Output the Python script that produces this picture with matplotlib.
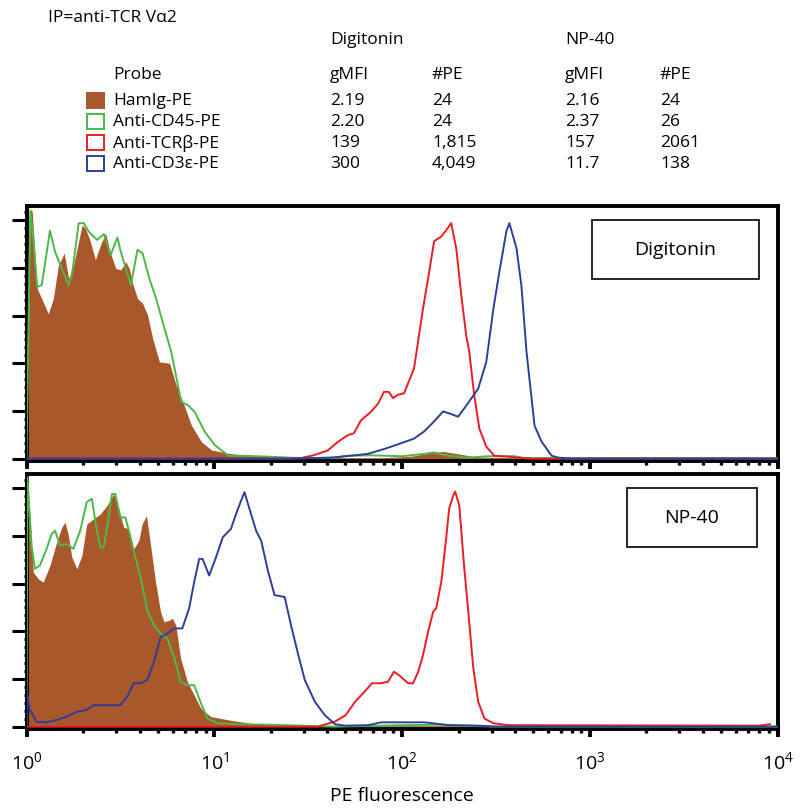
import matplotlib
matplotlib.use("Agg")
import matplotlib.pyplot as plt
from matplotlib.patches import Rectangle
from matplotlib.ticker import MultipleLocator, LogLocator, NullFormatter
import numpy as np

plt.rcParams['font.family'] = ['Open Sans', 'DejaVu Sans']
plt.rcParams['mathtext.fontset'] = 'custom'
plt.rcParams['mathtext.rm'] = 'Open Sans'

# summary table
probes = ["HamIg-PE", "Anti-CD45-PE", "Anti-TCRβ-PE", "Anti-CD3ε-PE"]
colors = ["#A8582A", "#4DB848", "#ED1C24", "#2E3F9A"]
dig_gmfi = ["2.19", "2.20", "139", "300"]
dig_pe = ["24", "24", "1,815", "4,049"]
np_gmfi = ["2.16", "2.37", "157", "11.7"]
np_pe = ["24", "26", "2061", "138"]

# histograms: log10(PE fluorescence) and relative counts
# --- Digitonin ---
dig_ham_x = [0.0, 0.02, 0.03, 0.057, 0.116, 0.143, 0.17, 0.201, 0.224, 0.251, 0.296, 0.314,
             0.337, 0.367, 0.394, 0.421, 0.448, 0.475, 0.502, 0.529, 0.547, 0.565, 0.591,
             0.618, 0.645, 0.672, 0.708, 0.762, 0.797, 0.833, 0.878, 0.932, 0.986, 1.075,
             1.147, 1.254, 1.326, 1.5, 1.9, 2.05, 2.15, 2.22, 2.3, 2.4, 2.6, 3.2, 3.4, 3.8, 4.0]
dig_ham_y = [0.0, 5.22, 5.2, 3.57, 3.04, 3.36, 4.06, 4.31, 3.78, 4.06, 4.9, 4.83,
             4.59, 4.17, 4.48, 4.73, 4.31, 3.99, 3.96, 4.13, 3.99, 3.68, 3.36,
             3.26, 3.01, 2.52, 2.03, 2.0, 1.54, 1.19, 0.7, 0.35, 0.18, 0.11,
             0.08, 0.06, 0.02, 0.02, 0.02, 0.05, 0.12, 0.15, 0.1, 0.03, 0.02, 0.03, 0.03, 0.03, 0.02]
dig_cd45_x = [0.0, 0.02, 0.036, 0.057, 0.081, 0.125, 0.152, 0.188, 0.224, 0.242, 0.278, 0.305,
              0.332, 0.376, 0.412, 0.448, 0.484, 0.502, 0.556, 0.591, 0.618, 0.654, 0.69,
              0.735, 0.771, 0.824, 0.86, 0.896, 0.95, 1.004, 1.075, 1.147, 1.29, 1.47, 1.65,
              1.7, 1.83, 2.0, 2.12, 2.17, 2.25, 2.35, 2.46, 2.6, 2.65, 4.0]
dig_cd45_y = [0.0, 5.2, 4.62, 3.6, 3.64, 4.78, 4.34, 3.99, 3.64, 3.85, 4.94, 4.94,
              4.76, 4.59, 4.71, 4.27, 4.64, 4.34, 3.64, 4.38, 4.31, 3.78, 3.36,
              2.73, 2.24, 1.19, 1.12, 0.98, 0.56, 0.28, 0.06, 0.06, 0.04, 0.01, 0.02,
              0.06, 0.07, 0.05, 0.1, 0.13, 0.06, 0.02, 0.05, 0.05, 0.01, 0.01]
dig_tcr_x = [0.0, 1.406, 1.46, 1.529, 1.604, 1.658, 1.711, 1.743, 1.781, 1.834, 1.872, 1.904,
             1.93, 1.952, 1.979, 2.011, 2.064, 2.112, 2.139, 2.171, 2.209, 2.235, 2.262,
             2.289, 2.316, 2.342, 2.358, 2.385, 2.412, 2.449, 2.492, 2.567, 2.62, 2.69, 4.0]
dig_tcr_y = [0.0, 0.0, 0.01, 0.07, 0.17, 0.35, 0.49, 0.53, 0.8, 0.98, 1.15, 1.4,
             1.4, 1.27, 1.34, 1.37, 1.89, 3.15, 3.78, 4.56, 4.66, 4.79, 4.94,
             4.41, 3.42, 2.58, 2.25, 1.32, 0.63, 0.25, 0.06, 0.04, 0.02, 0.0, 0.0]
dig_cd3_x = [0.0, 1.406, 1.62, 1.727, 1.818, 1.904, 1.979, 2.064, 2.118, 2.171, 2.219, 2.251,
             2.299, 2.342, 2.406, 2.449, 2.487, 2.519, 2.556, 2.572, 2.61, 2.636, 2.663,
             2.706, 2.743, 2.797, 2.834, 2.904, 4.0]
dig_cd3_y = [0.0, 0.0, 0.02, 0.06, 0.1, 0.2, 0.3, 0.42, 0.57, 0.78, 0.99, 0.95,
             0.88, 1.11, 1.47, 2.03, 3.15, 3.93, 4.77, 4.94, 4.41, 3.63, 2.25,
             0.69, 0.36, 0.06, 0.02, 0.0, 0.0]

# --- NP-40 ---
np_ham_x = [0.0, 0.009, 0.036, 0.0625, 0.089, 0.125, 0.161, 0.1875, 0.205, 0.223, 0.241,
            0.268, 0.295, 0.321, 0.357, 0.393, 0.429, 0.464, 0.491, 0.518, 0.545, 0.571,
            0.598, 0.616, 0.639, 0.661, 0.6875, 0.714, 0.732, 0.759, 0.777, 0.795, 0.821,
            0.857, 0.893, 0.929, 0.982, 1.036, 1.107, 1.196, 1.286, 1.464, 2.3, 2.5, 4.0]
np_ham_y = [0.0, 5.0, 3.24, 3.1, 3.03, 3.38, 3.87, 4.18, 4.29, 4.01, 3.56,
            3.31, 3.59, 4.25, 4.36, 4.46, 4.64, 4.88, 4.57, 4.18, 4.15, 3.73,
            3.9, 4.25, 4.43, 3.8, 3.03, 2.41, 2.2, 2.23, 2.27, 2.13, 1.43,
            0.94, 0.66, 0.38, 0.21, 0.17, 0.12, 0.07, 0.03, 0.02, 0.02, 0.0, 0.0]
np_cd45_x = [0.0, 0.005, 0.027, 0.045, 0.071, 0.107, 0.134, 0.152, 0.179, 0.214, 0.25,
             0.286, 0.321, 0.348, 0.375, 0.393, 0.411, 0.429, 0.455, 0.473, 0.5, 0.527,
             0.545, 0.571, 0.607, 0.643, 0.679, 0.714, 0.75, 0.786, 0.821, 0.857, 0.893,
             0.929, 0.964, 1.018, 1.107, 1.286, 1.464, 1.64, 2.0, 2.2, 2.35, 2.5, 4.0]
np_cd45_y = [0.0, 5.23, 3.8, 3.31, 3.38, 3.73, 4.04, 4.11, 3.8, 3.83, 3.73,
             4.11, 4.71, 4.78, 4.11, 3.76, 3.76, 4.18, 4.88, 4.88, 4.39, 4.39,
             4.11, 3.69, 3.14, 2.44, 2.13, 1.95, 1.85, 1.46, 0.94, 0.87, 0.87,
             0.49, 0.17, 0.07, 0.05, 0.04, 0.02, 0.0, 0.03, 0.04, 0.02, 0.0, 0.0]
np_tcr_x = [0.0, 1.55, 1.64, 1.7, 1.75, 1.8, 1.84, 1.888, 1.925, 1.957, 1.984, 2.032,
            2.059, 2.086, 2.112, 2.139, 2.166, 2.182, 2.209, 2.235, 2.251, 2.273, 2.283,
            2.305, 2.332, 2.353, 2.38, 2.406, 2.439, 2.487, 2.567, 3.9, 3.96]
np_tcr_y = [0.0, 0.0, 0.1, 0.24, 0.52, 0.73, 0.91, 0.91, 0.94, 1.15, 1.08, 0.91,
            0.91, 1.15, 1.5, 1.99, 2.41, 2.48, 3.03, 3.94, 4.57, 4.85, 4.93,
            4.64, 3.31, 2.41, 1.22, 0.52, 0.17, 0.07, 0.03, 0.02, 0.05]
np_cd3_x = [0.0, 0.004, 0.018, 0.054, 0.107, 0.161, 0.214, 0.268, 0.321, 0.357, 0.393,
            0.446, 0.5, 0.536, 0.571, 0.607, 0.643, 0.679, 0.714, 0.75, 0.786, 0.83,
            0.866, 0.893, 0.92, 0.9375, 0.973, 1.009, 1.045, 1.089, 1.116, 1.143, 1.161,
            1.1875, 1.223, 1.25, 1.286, 1.321, 1.375, 1.411, 1.446, 1.482, 1.536, 1.589,
            1.643, 1.696, 1.82, 1.89, 2.12, 2.25, 2.4, 2.5, 4.0]
np_cd3_y = [0.0, 0.7, 0.35, 0.1, 0.09, 0.14, 0.21, 0.31, 0.35, 0.45, 0.45,
            0.45, 0.45, 0.63, 0.91, 0.91, 0.98, 1.36, 1.88, 1.95, 2.06, 2.06,
            2.48, 3.03, 3.52, 3.52, 3.17, 3.55, 3.97, 4.15, 4.46, 4.74, 4.92,
            4.57, 4.11, 3.9, 3.27, 2.76, 2.72, 2.09, 1.53, 0.98, 0.52, 0.24,
            0.05, 0.02, 0.03, 0.09, 0.09, 0.03, 0.02, 0.0, 0.0]

panels = [
    ("Digitonin", [(dig_ham_x, dig_ham_y), (dig_cd45_x, dig_cd45_y),
                   (dig_tcr_x, dig_tcr_y), (dig_cd3_x, dig_cd3_y)]),
    ("NP-40", [(np_ham_x, np_ham_y), (np_cd45_x, np_cd45_y),
               (np_tcr_x, np_tcr_y), (np_cd3_x, np_cd3_y)]),
]

fig = plt.figure(figsize=(8.0, 8.12), dpi=100)

# header table
fs = 12.5
fig.text(48 / 800, 1 - 18 / 812, "IP=anti-TCR Vα2", fontsize=fs, va="center")
fig.text(330 / 800, 1 - 40 / 812, "Digitonin", fontsize=fs, va="center")
fig.text(565 / 800, 1 - 40 / 812, "NP-40", fontsize=fs, va="center")
col_x = [113, 330, 432, 565, 660]
for cx, head in zip(col_x, ["Probe", "gMFI", "#PE", "gMFI", "#PE"]):
    fig.text(cx / 800, 1 - 75 / 812, head, fontsize=fs, va="center")
row_y = [101, 122, 143, 164]
for i, name in enumerate(probes):
    yy = 1 - row_y[i] / 812
    for cx, val in zip(col_x, [name, dig_gmfi[i], dig_pe[i], np_gmfi[i], np_pe[i]]):
        fig.text(cx / 800, yy, val, fontsize=fs, va="center")
    filled = i == 0
    fig.patches.append(Rectangle((87 / 800, yy - 7.5 / 812), 17 / 800, 15 / 812,
                                 transform=fig.transFigure,
                                 facecolor=colors[i] if filled else "none",
                                 edgecolor=colors[i], linewidth=1.4))

ax_pos = [[26.5 / 800, 1 - 462 / 812, 751 / 800, 255 / 812],
          [26.5 / 800, 1 - 730 / 812, 751 / 800, 255 / 812]]

for k, (label, series) in enumerate(panels):
    ax = fig.add_axes(ax_pos[k])
    hx, hy = series[0]
    ax.fill_between(10 ** np.array(hx), hy, 0, color=colors[0], linewidth=0, zorder=1)
    for j in [1, 3, 2]:
        sx, sy = series[j]
        ax.plot(10 ** np.array(sx), sy, color=colors[j], linewidth=1.4, zorder=2 + j)
    ax.set_xscale("log")
    ax.set_xlim(1, 1e4)
    ax.set_ylim(-0.05, 5.3)
    for sp in ax.spines.values():
        sp.set_linewidth(2.8)
    ax.yaxis.set_major_locator(MultipleLocator(1))
    ax.yaxis.set_minor_locator(MultipleLocator(1 / 6))
    ax.set_yticklabels([])
    ax.xaxis.set_major_locator(LogLocator(base=10, numticks=10))
    ax.xaxis.set_minor_locator(LogLocator(base=10, subs=np.arange(2, 10), numticks=20))
    ax.xaxis.set_minor_formatter(NullFormatter())
    ax.tick_params(axis="x", which="major", direction="out", length=6, width=2.8)
    ax.tick_params(axis="x", which="minor", direction="out", length=3, width=2.4)
    ax.tick_params(axis="y", which="major", direction="out", length=11, width=2.2)
    ax.tick_params(axis="y", which="minor", direction="out", length=2.5, width=2.2)
    ax.add_patch(Rectangle((0.753, 0.714), 0.222, 0.231, transform=ax.transAxes,
                           facecolor="white", edgecolor="black", linewidth=1.2, zorder=6)
                 if k == 0 else
                 Rectangle((0.799, 0.714), 0.174, 0.231, transform=ax.transAxes,
                           facecolor="white", edgecolor="black", linewidth=1.2, zorder=6))
    cxb = 0.864 if k == 0 else 0.886
    ax.text(cxb, 0.83, label, transform=ax.transAxes, ha="center", va="center",
            fontsize=14, zorder=7)
    if k == 0:
        ax.set_xticklabels([])
    else:
        ax.set_xticks([1, 10, 100, 1000, 10000])
        ax.set_xticklabels([r"$\mathregular{10^{%d}}$" % e for e in range(5)], fontsize=14)
        ax.tick_params(axis="x", which="major", pad=9)
        ax.set_xlabel("PE fluorescence", fontsize=14, labelpad=10)

fig.savefig("out.png", dpi=100)
